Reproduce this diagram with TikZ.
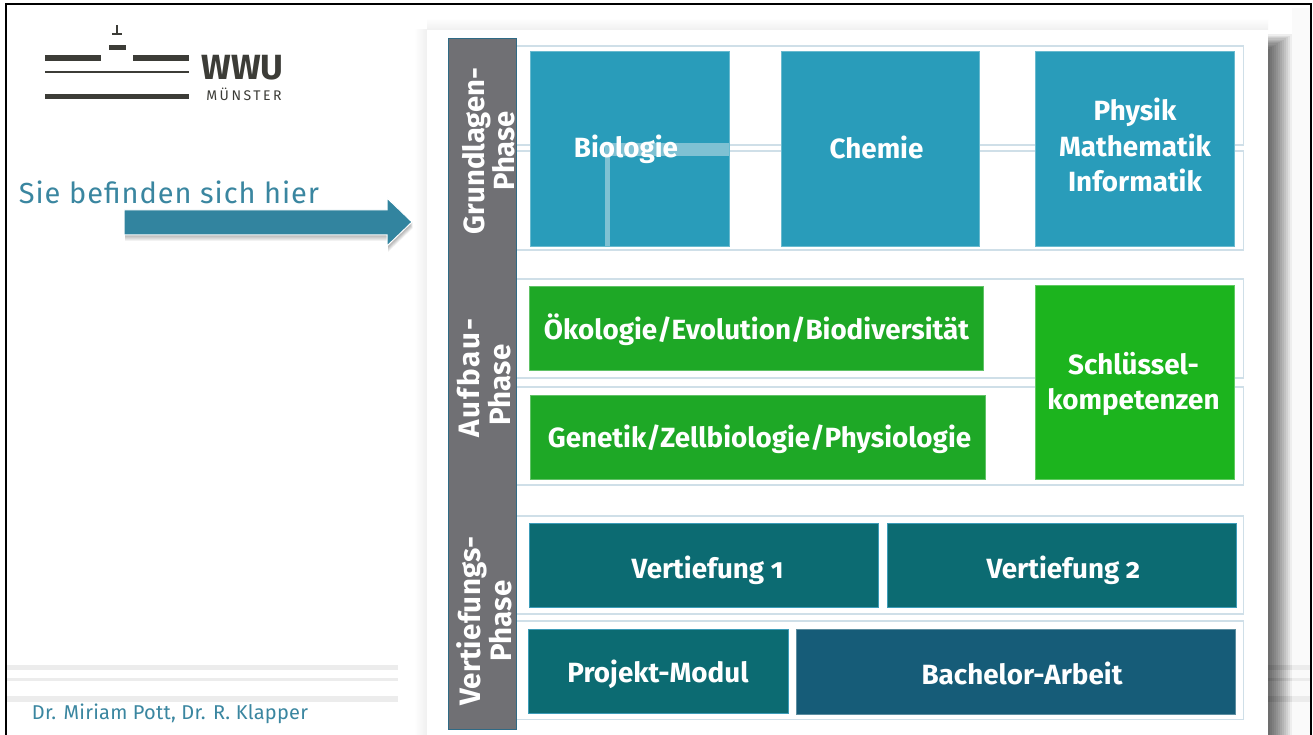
\documentclass[tikz,border=0pt]{standalone}
\usepackage{fontspec}
\setmainfont[Numbers=OldStyle]{Fira Sans}
\definecolor{wwugrey}{HTML}{3C3C37}
\definecolor{sietext}{HTML}{3A86A0}
\definecolor{arrowblue}{HTML}{32849F}
\definecolor{rowline}{HTML}{CFDFE8}
\definecolor{barfill}{HTML}{707074}
\definecolor{barline}{HTML}{2F6A85}
\definecolor{grundblue}{HTML}{299CBA}
\definecolor{bandblue}{HTML}{7FC1D3}
\definecolor{aufbaugreen}{HTML}{1EA826}
\definecolor{keygreen}{HTML}{1CB41E}
\definecolor{tiefteal}{HTML}{0C6B72}
\definecolor{tiefline}{HTML}{3C9CB8}
\definecolor{arbeitblue}{HTML}{165C78}
\definecolor{footgrey}{HTML}{ECECEC}
\tikzset{
  modbox/.style={fill=#1, draw=#1!70!white, line width=0.8pt, inner sep=0pt},
  modtext/.style={text=white, inner sep=0pt, align=center,
    font=\fontsize{27.8}{35.5}\selectfont\bfseries},
  phaselabel/.style={rotate=90, text=white, inner sep=0pt, align=center,
    font=\fontsize{29.5}{31}\selectfont\bfseries},
  rowbox/.style={draw=rowline, line width=1.2pt}
}
\begin{document}
\begin{tikzpicture}[x=1pt,y=-1pt]
        \useasboundingbox (0,0) rectangle (1313,735);
        \fill [white] (0,0) rectangle (1313,735);
        \fill [black!2] (1292,8) rectangle (1310,735);
        \foreach \ya/\yb in {665/670,678/681,696/702}{
          \fill [footgrey] (7,\ya) rectangle (398,\yb);
          \fill [footgrey] (1268,\ya) rectangle (1311,\yb);
        }
        \draw [line width=2.2pt] (6,735) -- (6,4) -- (1311,4) -- (1311,735);

        \foreach \d in {1,...,12}{
          \fill [black, opacity=0.065] (1260,{50-1.3*\d}) rectangle ({1268+2*\d},735);
        }
        \shade [left color=white, right color=black!6] (414,30) rectangle (427,735);
        \shade [top color=white, bottom color=black!6] (427,18) rectangle (1268,30);
        \fill [white] (427,30) rectangle (1268,735);

        \fill [wwugrey] (45,55) rectangle (101,61);
        \fill [wwugrey] (133,55) rectangle (189,61);
        \fill [wwugrey] (45,71) rectangle (189,73.5);
        \fill [wwugrey] (45,94) rectangle (189,99.5);
        \fill [wwugrey] (109,45) rectangle (125.5,50);
        \fill [wwugrey] (112,33.5) rectangle (122,35.5);
        \fill [wwugrey] (116,25) rectangle (118,34);
        \node (wwu) [text=wwugrey, inner sep=0pt, font=\fontsize{35}{35}\selectfont\bfseries] at (242.5,68) {WWU};
        \node (muenster) [text=wwugrey, inner sep=0pt, font=\fontsize{14}{14}\selectfont\addfontfeatures{LetterSpace=18}] at (244,94.5) {MÜNSTER};

        \node (hier) [text=sietext, inner sep=0pt, font=\fontsize{29}{29}\selectfont\addfontfeatures{LetterSpace=3.2}] at (169,192.5) {Sie befinden sich hier};
        \foreach \d in {1,...,6}{
          \fill [black, opacity=0.05, yshift=-\d pt, xshift=1pt]
            (124,210) -- (387,210) -- (387,198) -- (412,222) -- (387,246) -- (387,235) -- (124,235) -- cycle;
        }
        \fill [arrowblue, draw=white, line width=1pt]
          (124,210) -- (387,210) -- (387,198) -- (412,222) -- (387,246) -- (387,235) -- (124,235) -- cycle;
        \node (autor) [text=sietext, inner sep=0pt, font=\fontsize{20}{20}\selectfont\addfontfeatures{LetterSpace=1.2}] at (170,714) {Dr. Miriam Pott, Dr. R. Klapper};

        \foreach \ya/\yb in {46/145,151/250,279/378,387/485,516/614,621/719.5}{
          \draw [rowbox] (516,\ya) rectangle (1243.5,\yb);
        }

        \fill [barfill, draw=barline, line width=1pt] (448,38.5) rectangle (516,729);
        \node (grund) [phaselabel, font=\fontsize{29.2}{25.5}\selectfont\bfseries] at (488.5,151) {Grundlagen-\\Phase};
        \node (aufbau) [phaselabel] at (484.5,385) {\hspace*{14pt}{\addfontfeatures{LetterSpace=7}Aufbau-}\\Phase};
        \node (vertief) [phaselabel] at (484.5,621) {{\addfontfeatures{LetterSpace=1}Vertiefungs-}\\Phase};

        \node (biobox) [modbox=grundblue, minimum width=199pt, minimum height=195pt] at (629.5,148.5) {};
        \fill [bandblue] (605,143) rectangle (729,156);
        \fill [bandblue] (604.5,156) rectangle (610,246);
        \node (biologie) [modtext] at (626,149) {Biologie};
        \node (chemiebox) [modbox=grundblue, minimum width=198pt, minimum height=195pt] at (880,148.5) {};
        \node (chemie) [modtext] at (876.5,147) {Chemie};
        \node (physikbox) [modbox=grundblue, minimum width=199pt, minimum height=195pt] at (1134.5,148.5) {};
        \node (physik) [modtext] at (1135,145) {Physik\\Mathematik\\Informatik};

        \node (oekobox) [modbox=aufbaugreen, minimum width=454pt, minimum height=84pt] at (756,328) {};
        \node (oeko) [modtext] at (756.5,330) {Ökologie/Evolution/Biodiversität};
        \node (genetikbox) [modbox=aufbaugreen, minimum width=455pt, minimum height=84pt] at (757.5,437) {};
        \node (genetik) [modtext] at (759.5,439) {Genetik/Zellbiologie/Physiologie};
        \node (schluesselbox) [modbox=keygreen, minimum width=199pt, minimum height=194pt] at (1134.5,382) {};
        \node (schluessel) [modtext] at (1133.5,384) {Schlüssel-\\kompetenzen};

        \node (vert1box) [modbox=tiefteal, draw=tiefline, minimum width=349pt, minimum height=84pt] at (703.5,565) {};
        \node (vert1) [modtext] at (707.5,570) {Vertiefung 1};
        \node (vert2box) [modbox=tiefteal, draw=tiefline, minimum width=349pt, minimum height=84pt] at (1061.5,565) {};
        \node (vert2) [modtext] at (1063.5,570) {Vertiefung 2};
        \node (projektbox) [modbox=tiefteal, draw=tiefline, minimum width=260pt, minimum height=84pt] at (658,671) {};
        \node (projekt) [modtext] at (658,674) {Projekt-Modul};
        \node (bachelorbox) [modbox=arbeitblue, minimum width=439pt, minimum height=85pt] at (1015.5,671.5) {};
        \node (bachelor) [modtext] at (1022,673) {Bachelor-Arbeit};
      \end{tikzpicture}
\end{document}
